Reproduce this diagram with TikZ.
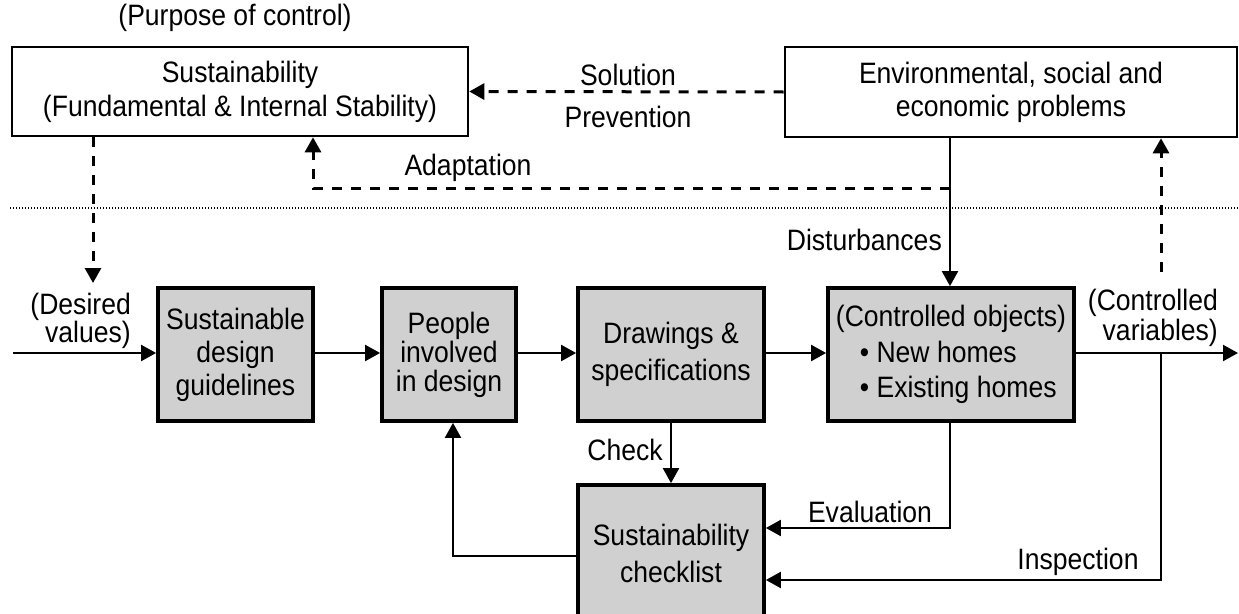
\documentclass[tikz,border=0pt]{standalone}
\usepackage{fontspec}
\setmainfont{Liberation Sans}[FakeStretch=0.9]
\usetikzlibrary{arrows.meta}
\definecolor{boxgray}{RGB}{208,208,208}
\begin{document}
\begin{tikzpicture}[x=1pt,y=-1pt,
  font=\fontsize{29.5}{28}\selectfont,
  tip/.style={-{Triangle[length=15pt,width=16pt]}},
  conn/.style={line width=2.2pt, tip},
  dconn/.style={line width=3pt, dash pattern=on 10pt off 9pt, tip},
  wbox/.style={draw, line width=2.6pt, fill=white, inner sep=0pt, align=center},
  gbox/.style={draw, line width=3.8pt, fill=boxgray, inner sep=0pt, align=center},
  lbl/.style={inner sep=0pt},
  dotline/.style={line width=1.4pt, dash pattern=on 1.4pt off 1.6pt}]
\clip (0,0) rectangle (1239,613);
\fill[white] (0,0) rectangle (1239,613);

% boxes
\node[wbox, minimum width=456pt, minimum height=89pt, font=\fontsize{29.5}{34}\selectfont] (tl) at (240,91.5)
  {Sustainability\\(Fundamental \& Internal Stability)};
\node[wbox, minimum width=452pt, minimum height=90pt, font=\fontsize{29.5}{33}\selectfont] (tr) at (1011,92)
  {Environmental, social and\\economic problems};
\node[gbox, minimum width=155pt, minimum height=133pt, font=\fontsize{29.5}{33}\selectfont] (b1) at (235.5,354.5)
  {Sustainable\\design\\guidelines};
\node[gbox, minimum width=134pt, minimum height=133pt, font=\fontsize{29.5}{29}\selectfont] (b2) at (449,354.5)
  {People\\involved\\in design};
\node[gbox, minimum width=186pt, minimum height=133pt, font=\fontsize{29.5}{37}\selectfont] (b3) at (671,354.5)
  {Drawings \&\\specifications};
\node[gbox, minimum width=246pt, minimum height=133pt, font=\fontsize{29.5}{35.5}\selectfont, align=left] (b4) at (951,354.5)
  {(Controlled objects)\\\hspace*{24pt}\textbullet\ New homes\\\hspace*{24pt}\textbullet\ Existing homes};
\node[gbox, minimum width=186pt, minimum height=137pt, font=\fontsize{29.5}{37}\selectfont] (b5) at (671,553.5)
  {Sustainability\\checklist};

% labels
\node[lbl] (pc) at (235,18) {(Purpose of control)};
\node[lbl] (sol) at (628,75) {Solution};
\node[lbl] (prev) at (628,117) {Prevention};
\node[lbl] (adl) at (468,168) {Adaptation};
\node[lbl, anchor=east] (dist) at (942,240) {Disturbances};
\node[lbl, anchor=east, align=right, font=\fontsize{29.5}{28}\selectfont] (dvl) at (131,321) {(Desired\\values)};
\node[lbl, anchor=east, align=right, font=\fontsize{29.5}{30}\selectfont] (cvl) at (1218,318) {(Controlled\\variables)};
\node[lbl] (chk) at (625,450) {Check};
\node[lbl] (evl) at (870,512) {Evaluation};
\node[lbl] (insl) at (1078,562) {Inspection};

% coordinates
\coordinate (in) at (13,353);
\coordinate (out) at (1238,353);
\coordinate (dvt) at (93,283);
\coordinate (ad) at (950,188);
\coordinate (adx) at (313,188);
\coordinate (cvt) at (1161,272);
\coordinate (evc) at (950,528);
\coordinate (insc) at (1161,580);
\coordinate (fb) at (453,556);
\coordinate (dl) at (10,208);
\coordinate (dr) at (1239,208);

% dotted separator
\draw[dotline] (dl) -- (dr);

% main chain
\draw[conn] (in) -- (in -| b1.west);
\draw[conn] (b1.east |- in) -- (b2.west |- in);
\draw[conn] (b2.east |- in) -- (b3.west |- in);
\draw[conn] (b3.east |- in) -- (b4.west |- in);
\draw[conn] (b4.east |- out) -- (out);

% top connectors
\draw[dconn] (tl.south -| dvt) -- (dvt);
\draw[dconn] (tr.west) -- (tl.east);
\draw[dconn] (ad) -- (adx) -- (adx |- tl.south);
\draw[conn] (tr.south -| ad) -- (b4.north -| ad);
\draw[dconn] (cvt) -- (cvt |- tr.south);

% feedback
\draw[conn] (b3.south) -- (b5.north);
\draw[conn] (b4.south -| evc) -- (evc) -- (evc -| b5.east);
\draw[conn] (insc |- out) -- (insc) -- (insc -| b5.east);
\draw[conn] (fb -| b5.west) -- (fb) -- (fb |- b2.south);
\end{tikzpicture}
\end{document}
